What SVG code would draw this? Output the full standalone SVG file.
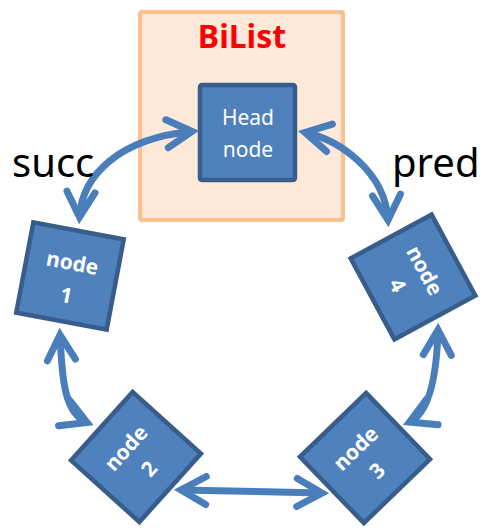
<svg xmlns="http://www.w3.org/2000/svg" width="485" height="528" viewBox="0 0 485 528">
<style>
.node{fill:#4F81BD;stroke:#385D8A;stroke-width:4.5}
.nt{font-family:"Noto Sans","Open Sans",sans-serif;font-size:21px;fill:#ffffff;text-anchor:middle}
.b{font-weight:bold}
.conn{fill:none;stroke:#4A7EBB;stroke-width:7;marker-start:url(#chev);marker-end:url(#chev)}
.lbl{font-family:"Noto Sans","Open Sans",sans-serif;font-size:40px;fill:#000000}
</style>
<defs>
<marker id="chev" markerUnits="userSpaceOnUse" viewBox="-40 -25 50 50" markerWidth="50" markerHeight="50" refX="0" refY="0" orient="auto-start-reverse">
<path d="M -25 -14 L 0 0 L -25 14" fill="none" stroke="#4A7EBB" stroke-width="7" stroke-linecap="round" stroke-linejoin="miter" stroke-miterlimit="6"/>
</marker>
</defs>
<g id="bilist">
<rect x="140" y="12" width="203" height="208" rx="2" fill="#FDE9D9" stroke="#FAC090" stroke-width="4"/>
<text x="242" y="48" font-family="Noto Sans, Open Sans, sans-serif" font-size="32" font-weight="bold" fill="#FF0000" text-anchor="middle">BiList</text>
</g>
<g id="head">
<rect class="node" x="200" y="85" width="95" height="95" rx="2"/>
<text class="nt" x="248" y="125">Head</text>
<text class="nt" x="248" y="157">node</text>
</g>
<g id="node1" transform="translate(70,276) rotate(10.7)">
<rect class="node" x="-46" y="-46" width="92" height="92"/>
<text class="nt b" x="0" y="-6">node</text>
<text class="nt b" x="0" y="27">1</text>
</g>
<g id="node4" transform="translate(413,277) rotate(61.6)">
<rect class="node" x="-46" y="-46" width="92" height="92"/>
<text class="nt b" x="0" y="-6">node</text>
<text class="nt b" x="0" y="25">4</text>
</g>
<g id="node2" transform="translate(136,457) rotate(-48)">
<rect class="node" x="-46" y="-46" width="92" height="92"/>
<text class="nt b" x="0" y="-6">node</text>
<text class="nt b" x="0" y="25">2</text>
</g>
<g id="node3" transform="translate(365,458) rotate(-44)">
<rect class="node" x="-46" y="-46" width="92" height="92"/>
<text class="nt b" x="0" y="-6">node</text>
<text class="nt b" x="0" y="25">3</text>
</g>
<g id="connectors">
<path class="conn" d="M 79.5,217 C 82,175 120,138 192,131.5"/>
<path class="conn" d="M 305,132.5 C 340,140 385,172 388,220"/>
<path class="conn" d="M 60,335 C 62,370 62,412 87,422.5"/>
<path class="conn" d="M 438,330 C 437,365 432,412 409.5,422"/>
<path class="conn" d="M 181,490 L 322,493"/>
</g>
<g id="labels">
<text class="lbl" x="12" y="177">succ</text>
<text class="lbl" x="392" y="177">pred</text>
</g>
</svg>
